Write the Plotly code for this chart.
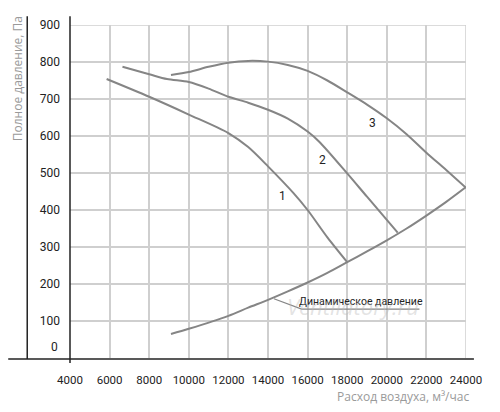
import plotly.graph_objects as go

# ---- data ----
x_ticks = [4000, 6000, 8000, 10000, 12000, 14000, 16000, 18000, 20000, 22000, 24000]
y_ticks = [100, 200, 300, 400, 500, 600, 700, 800, 900]

c1_x = [5850, 8000, 10000, 12000, 13000, 14000, 15300, 16000, 17000, 18000]
c1_y = [754, 706, 658, 608, 570, 518, 445, 400, 326, 259]

c2_x = [6650, 8000, 8900, 10000, 11000, 12000, 13000, 14000, 15000, 16000, 16600, 18000, 19000, 20550]
c2_y = [787, 767, 754, 746, 728, 706, 690, 671, 647, 612, 584, 499, 436, 339]

c3_x = [9100, 10000, 11000, 12000, 13000, 14000, 15000, 16000, 17000, 18000, 19000, 20000, 21000, 22000, 23000, 24000]
c3_y = [765, 773, 787, 798, 803, 801, 792, 776, 750, 718, 685, 648, 605, 555, 508, 460]

dyn_x = [9100, 10000, 12000, 13000, 14000, 15000, 16000, 17000, 18000, 19000, 20000, 21000, 22000, 23000, 24000]
dyn_y = [65, 79, 114, 136, 157, 180, 204, 230, 259, 288, 318, 350, 385, 422, 462]

curve_labels = ["1", "2", "3"]
label_x = [14730, 16750, 19260]
label_y = [437, 535, 635]

dyn_label = "Динамическое давление"
dyn_label_x = 18690
dyn_label_y = 152
pointer_x = [14300, 15700, 21650]
pointer_y = [160, 132, 132]

x_title = "Расход воздуха, м³/час"
y_title = "Полное давление, Па"

# ---- figure ----
LINE = "#858585"
GRID = "#cfcfcf"
NARROW = "Roboto, sans-serif"
SANS = "Open Sans, Noto Sans, sans-serif"

fig = go.Figure()
for xs, ys in [(c1_x, c1_y), (c2_x, c2_y), (c3_x, c3_y), (dyn_x, dyn_y)]:
    fig.add_trace(go.Scatter(x=xs, y=ys, mode="lines",
                             line=dict(color=LINE, width=2, shape="spline", smoothing=0.8),
                             hoverinfo="skip", showlegend=False))
fig.add_trace(go.Scatter(x=pointer_x, y=pointer_y, mode="lines", line=dict(color=LINE, width=1.2),
                         hoverinfo="skip", showlegend=False))

annotations = []
for t, lx, ly in zip(curve_labels, label_x, label_y):
    annotations.append(dict(x=lx, y=ly, text=t, showarrow=False,
                            font=dict(family=NARROW, size=12, color="#222")))
annotations.append(dict(x=dyn_label_x, y=dyn_label_y, text=dyn_label, showarrow=False,
                        font=dict(family=NARROW, size=10.5, color="#222")))
# watermark
annotations.append(dict(x=18300, y=140, text="<i>Ventilatory.ru</i>", showarrow=False,
                        font=dict(family=SANS, size=22, color="rgba(185,185,185,0.4)")))
# zero label (sits above the axis line in the reference)
annotations.append(dict(xref="paper", x=-0.026, y=29, text="0", showarrow=False,
                        xanchor="right", yanchor="middle",
                        font=dict(family=NARROW, size=12, color="#222")))
annotations.append(dict(xref="paper", yref="paper", x=-0.134, y=0.84, text=y_title, textangle=-90,
                        xanchor="center", yanchor="middle",
                        showarrow=False, font=dict(family=SANS, size=12, color="#9a9a9a")))
annotations.append(dict(xref="paper", yref="paper", x=1.0126, y=-0.116, text=x_title,
                        xanchor="right", yanchor="middle",
                        showarrow=False, font=dict(family=SANS, size=12, color="#9a9a9a")))

shapes = [
    # grid borders
    dict(type="line", xref="x", yref="y", x0=4000, x1=24000, y0=900, y1=900,
         line=dict(color=GRID, width=1.5), layer="below"),
    dict(type="line", xref="x", yref="y", x0=24000, x1=24000, y0=0, y1=900,
         line=dict(color=GRID, width=1.5), layer="below"),
    # black axes
    dict(type="line", xref="paper", yref="paper", x0=-0.156, x1=1.02, y0=-0.003, y1=-0.003,
         line=dict(color="#222", width=1.5)),
    dict(type="line", xref="paper", yref="paper", x0=0, x1=0, y0=-0.015, y1=1.026,
         line=dict(color="#222", width=1.5)),
    dict(type="line", xref="paper", yref="paper", x0=-0.108, x1=-0.108, y0=-0.003, y1=1.026,
         line=dict(color="#222", width=1.5)),
]

# page body has an 8px default margin, so the figure is 16px smaller
fig.update_layout(
    width=484, height=396,
    margin=dict(l=62, r=25, t=10, b=46),
    paper_bgcolor="white", plot_bgcolor="white",
    annotations=annotations, shapes=shapes,
    xaxis=dict(range=[4000, 24000], tickvals=x_ticks, ticktext=[str(v) for v in x_ticks],
               showgrid=True, gridcolor=GRID, gridwidth=1.5, zeroline=False, showline=False,
               ticks="", ticklabelstandoff=13, tickfont=dict(family=NARROW, size=11.5, color="#222")),
    yaxis=dict(range=[0, 900], tickvals=y_ticks, ticktext=[str(v) for v in y_ticks],
               showgrid=True, gridcolor=GRID, gridwidth=1.5, zeroline=False, showline=False,
               ticks="", ticklabelstandoff=9, tickfont=dict(family=NARROW, size=12, color="#222")),
)

fig.write_html("out.html")
